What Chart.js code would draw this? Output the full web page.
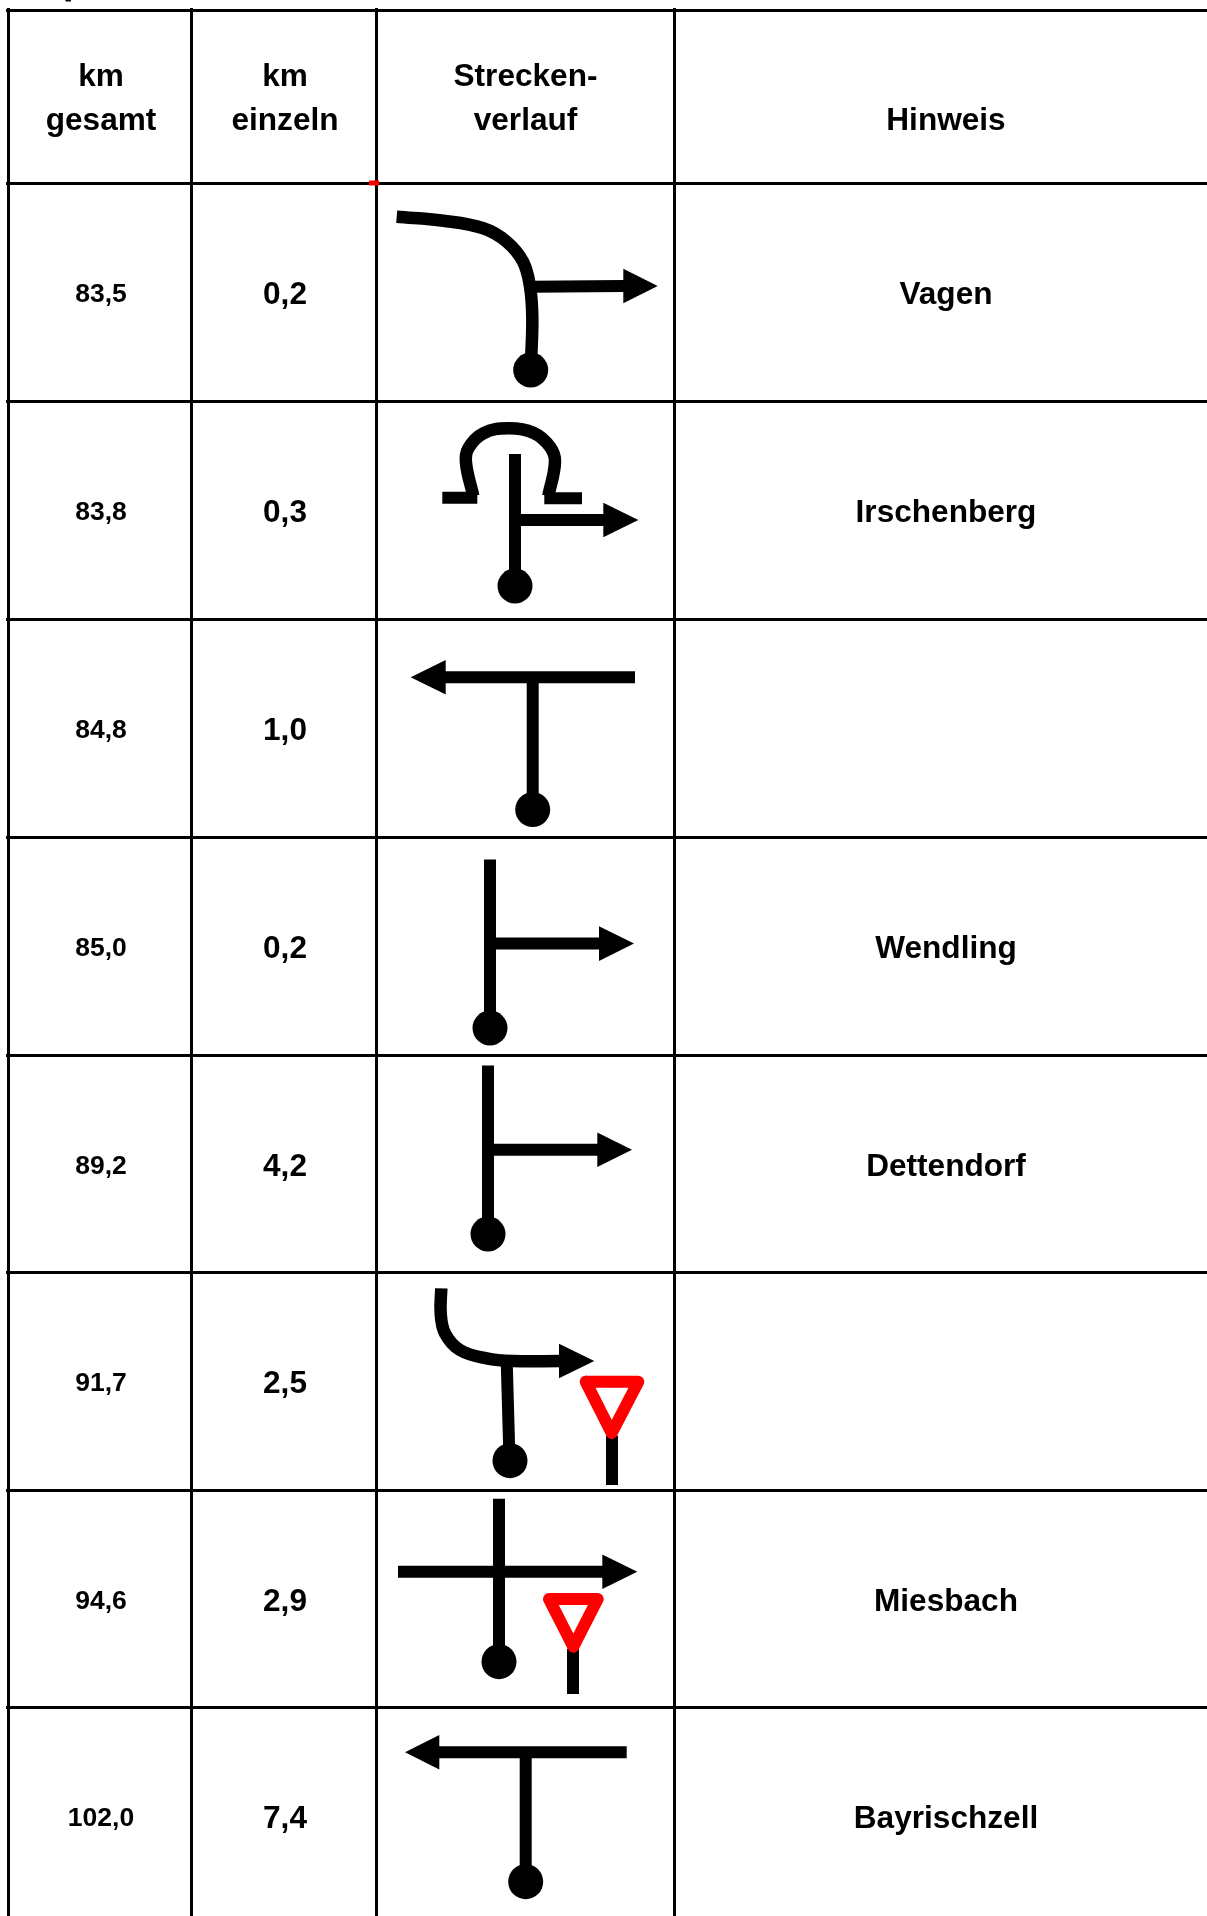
<!DOCTYPE html>
<html>
<head>
<meta charset="utf-8">
<title>Streckenverlauf</title>
<script src="https://cdn.jsdelivr.net/npm/chart.js@4/dist/chart.umd.min.js"></script>
<style>
  html, body { margin: 0; padding: 0; background: #fff; }
  canvas { display: block; }
</style>
</head>
<body>
<canvas id="route-table" width="1207" height="1916"></canvas>
<script>
// Table content
const kmGesamt = ["83,5", "83,8", "84,8", "85,0", "89,2", "91,7", "94,6", "102,0"];
const kmEinzeln = ["0,2", "0,3", "1,0", "0,2", "4,2", "2,5", "2,9", "7,4"];
const hinweis = ["Vagen", "Irschenberg", "", "Wendling", "Dettendorf", "", "Miesbach", "Bayrischzell"];
const headers = [["km", "gesamt"], ["km", "einzeln"], ["Strecken-", "verlauf"], ["Hinweis"]];

// Table grid, in page units
const columnEdges = [8, 191.5, 376, 674.5];
const columnCenters = [101, 285, 525.5, 946];
const rowEdges = [10, 183, 401, 619, 837, 1055, 1272, 1490, 1707];

// Straight road pieces
const straightRoads = [
  [[531.7, 286.7], [624, 286]],
  [[515, 454], [515, 586]],
  [[521, 520], [604, 520]],
  [[635, 677.3], [445, 677.3]],
  [[532.7, 677.3], [532.7, 810]],
  [[490, 859.4], [490, 1028]],
  [[490, 943.6], [600, 943.6]],
  [[488, 1065.4], [488, 1234]],
  [[488, 1149.7], [598, 1149.7]],
  [[506.7, 1361], [509.5, 1460]],
  [[499, 1498.7], [499, 1662]],
  [[398, 1571.7], [603, 1571.7]],
  [[626.7, 1752.3], [439, 1752.3]],
  [[525.7, 1752.3], [525.7, 1882]]
];

// Curved road pieces
const curvedRoads = [
  [[396.7, 216.7], [443.3, 220.7], [483.3, 228.3], [506.7, 241.7], [523, 261.7], [530, 286.7], [532.3, 316.7], [531.3, 356.7]],
  [[473.3, 496], [466, 463], [468.3, 448.3], [483.3, 433.3], [508.3, 428.3], [533.3, 432.7], [550, 446.7], [555, 461.7], [548.3, 496]],
  [[441.3, 1288.3], [440.7, 1313.3], [445, 1333.3], [460, 1350], [486.7, 1358.3], [513.3, 1361], [560, 1361]]
];

// Short stubs at the ends of the loop in row 2
const loopStubs = [
  [[442.3, 497.7], [477.3, 497.7]],
  [[544.3, 498.3], [582, 498.3]]
];

// Arrow heads as triangles
const arrowHeads = [
  [[623.3, 268.7], [657.7, 286], [623.3, 303.3]],
  [[603.3, 502.7], [638.3, 520], [603.3, 537.3]],
  [[445.7, 660], [410.7, 677.3], [445.7, 694.6]],
  [[599, 926.3], [634, 943.6], [599, 960.9]],
  [[597.3, 1132.4], [632, 1149.7], [597.3, 1167]],
  [[559, 1343.7], [594.3, 1361], [559, 1378.3]],
  [[602.3, 1554.4], [637.3, 1571.7], [602.3, 1589]],
  [[439.3, 1735], [405, 1752.3], [439.3, 1769.6]]
];

// Start dots
const startDots = [[530.7, 370], [515, 586], [532.7, 809.6], [490, 1028], [488, 1234], [510, 1460.7], [499, 1661.7], [525.7, 1881.7]];

// Give way signs and their posts
const yieldSigns = [
  [[585.7, 1381.7], [638.3, 1381.7], [611.7, 1433], [585.7, 1381.7]],
  [[549, 1599], [597.7, 1599], [573.3, 1646.7], [549, 1599]]
];
const signPosts = [
  [[612, 1435.7], [612, 1485]],
  [[573, 1649], [573, 1694]]
];

// Red mark sitting on the header line, and the cut off glyph at the top edge
const redMark = [[369, 183], [379, 183]];
const topFragment = [[65.5, 0], [71, 0]];

// Line controller without the overflow padding, so the scales fill the page
class RouteController extends Chart.LineController {
  getMaxOverflow() {
    return 0;
  }
}
RouteController.id = "routeLine";
RouteController.defaults = Chart.LineController.defaults;
RouteController.overrides = Chart.LineController.overrides;
Chart.register(RouteController);

function toPoints(list) {
  return list.map(p => ({ x: p[0], y: p[1] }));
}

function roadDataset(list, extra) {
  return Object.assign({
    data: toPoints(list),
    borderColor: "#000",
    borderWidth: 12,
    pointRadius: 0,
    fill: false,
    tension: 0
  }, extra);
}

const datasets = [];
datasets.push(roadDataset(redMark, { borderColor: "#f00", borderWidth: 5 }));
datasets.push(roadDataset(topFragment, { borderWidth: 3, clip: false }));
yieldSigns.forEach(s => datasets.push(roadDataset(s, {
  borderColor: "#f00",
  borderJoinStyle: "round",
  borderCapStyle: "round"
})));
straightRoads.forEach(r => datasets.push(roadDataset(r)));
signPosts.forEach(r => datasets.push(roadDataset(r)));
loopStubs.forEach(r => datasets.push(roadDataset(r)));
curvedRoads.forEach(r => datasets.push(roadDataset(r, { tension: 0.4, borderWidth: 12.5 })));
arrowHeads.forEach(h => datasets.push(roadDataset(h, {
  borderWidth: 0,
  fill: "shape",
  backgroundColor: "#000"
})));
datasets.push({
  data: toPoints(startDots),
  showLine: false,
  pointRadius: 17.5,
  pointBackgroundColor: "#000",
  pointBorderWidth: 0
});

// Writes the cell text at positions taken from the scales
const tableText = {
  id: "tableText",
  afterDatasetsDraw(chart) {
    const ctx = chart.ctx;
    const xs = chart.scales.x;
    const ys = chart.scales.y;
    const colCenter = i => xs.getPixelForValue(columnCenters[i]);
    const rowCenter = i => (ys.getPixelForValue(rowEdges[i]) + ys.getPixelForValue(rowEdges[i + 1] || 1925)) / 2;

    ctx.save();
    ctx.fillStyle = "#000";
    ctx.textAlign = "center";
    ctx.textBaseline = "alphabetic";

    ctx.font = "bold 31.6px 'Liberation Sans'";
    headers.forEach((lines, c) => {
      const baseline = lines.length === 2 ? [86, 130] : [130];
      lines.forEach((line, i) => ctx.fillText(line, colCenter(c), baseline[i]));
    });

    kmGesamt.forEach((v, r) => {
      const y = rowCenter(r + 1);
      ctx.font = "bold 26.5px 'Liberation Sans'";
      ctx.fillText(v, colCenter(0), y + 10);
      ctx.font = "bold 31.6px 'Liberation Sans'";
      ctx.fillText(kmEinzeln[r], colCenter(1), y + 12);
      if (hinweis[r]) ctx.fillText(hinweis[r], colCenter(3), y + 12);
    });
    ctx.restore();
  }
};

const gridStyle = { color: "#000", lineWidth: 3, drawTicks: false };

new Chart(document.getElementById("route-table"), {
  type: "routeLine",
  data: { datasets },
  plugins: [tableText],
  options: {
    responsive: false,
    animation: false,
    layout: { padding: { left: 6, top: 8 } },
    plugins: { legend: { display: false }, tooltip: { enabled: false } },
    scales: {
      x: {
        type: "linear",
        min: 6,
        max: 1207,
        grid: gridStyle,
        border: { display: false },
        ticks: { display: false, autoSkip: false },
        afterBuildTicks: s => { s.ticks = columnEdges.map(v => ({ value: v })); }
      },
      y: {
        type: "linear",
        reverse: true,
        min: 8,
        max: 1916,
        grid: gridStyle,
        border: { display: false },
        ticks: { display: false, autoSkip: false },
        afterBuildTicks: s => { s.ticks = rowEdges.map(v => ({ value: v })); }
      }
    }
  }
});
</script>
</body>
</html>
